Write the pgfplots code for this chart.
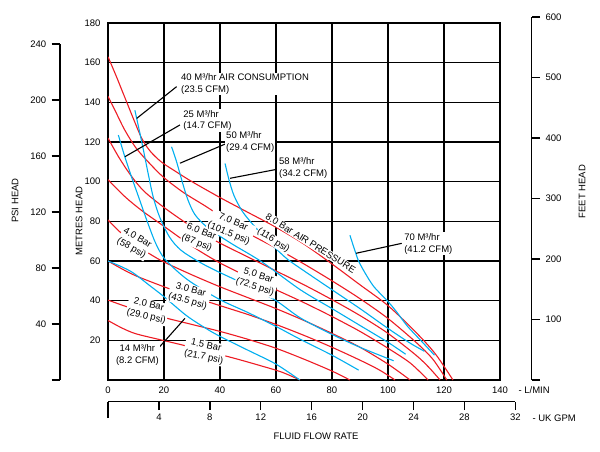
\documentclass[border=0pt]{standalone}
\usepackage{pgfplots}
\pgfplotsset{compat=1.18}
\usepackage{fontspec}
\setmainfont{Liberation Sans}
\definecolor{cred}{HTML}{ED1C24}
\definecolor{cblue}{HTML}{00AEEF}
\newcommand{\fs}{\fontsize{9.5}{11.8}\selectfont}
\tikzset{lbl/.style={fill=white, inner sep=1pt, align=center, font=\fs},
         lbll/.style={fill=white, inner sep=1pt, align=left, anchor=west, font=\fs}}
\pgfplotsset{red/.style={cred, line width=1.1pt, smooth, tension=0.5},
             blue/.style={cblue, line width=1.1pt, smooth, tension=0.5},
             ptr/.style={black, line width=1.1pt}}
\begin{document}
\begin{tikzpicture}[font=\fs]
\path[use as bounding box] (0,0) rectangle (600pt,451pt);

% PSI axis
\begin{axis}[at={(60pt,71pt)}, anchor=south west, scale only axis, width=20pt, height=336pt,
  xmin=0, xmax=1, ymin=0, ymax=240, hide x axis, axis y line=left,
  axis line style={-, line width=1.3pt},
  ytick={40,80,...,240}, extra y ticks={0}, extra y tick labels={},
  tick align=outside, major tick length=8.3pt, tick style={line width=1.3pt, black},
  yticklabel style={xshift=-2pt, font=\fs}, /pgf/number format/assume math mode=true]
\addplot[draw=none] coordinates {(0,0)};
\end{axis}

% FEET axis
\begin{axis}[at={(531.7pt,71pt)}, anchor=south east, scale only axis, width=20pt, height=363pt,
  xmin=0, xmax=1, ymin=0, ymax=600, hide x axis, axis y line=right,
  axis line style={-, line width=1.3pt},
  ytick={100,200,...,600}, extra y ticks={0}, extra y tick labels={},
  tick align=outside, major tick length=8.3pt, tick style={line width=1.3pt, black},
  yticklabel style={xshift=2pt, font=\fs}, /pgf/number format/assume math mode=true]
\addplot[draw=none] coordinates {(0,0)};
\end{axis}

% UK GPM axis
\begin{axis}[at={(108pt,49.3pt)}, anchor=south west, scale only axis, width=407.4pt, height=10pt,
  xmin=0, xmax=32, ymin=0, ymax=1, hide y axis, axis x line=bottom,
  axis line style={-, line width=1.3pt},
  xtick={4,8,...,32}, extra x ticks={0}, extra x tick labels={},
  extra tick style={major tick length=16.5pt},
  tick align=outside, major tick length=8.5pt, tick style={line width=1.3pt, black},
  xticklabel style={font=\fs}, /pgf/number format/assume math mode=true]
\addplot[draw=none] coordinates {(0,0)};
\end{axis}

% Main axis
\begin{axis}[at={(108pt,71pt)}, anchor=south west, scale only axis, width=392pt, height=357pt,
  xmin=0, xmax=140, ymin=0, ymax=180,
  xtick={0,20,...,140}, ytick={20,40,...,180},
  grid=major, major grid style={black, line width=1.1pt},
  axis line style={line width=1.4pt}, major tick length=0pt,
  xticklabel style={yshift=-3pt, font=\fs}, yticklabel style={xshift=-4pt, font=\fs},
  /pgf/number format/assume math mode=true]

% pressure curves (red)
\addplot[red] coordinates {(0,163) (3,153) (6,142.5) (9,132) (12,122) (15,115.5) (19,110) (24,105.3) (30,100) (40,92) (50,84.5) (60,77) (70,68.5) (80,58.5) (90,48) (100,37.5) (110,24) (117,13) (123.2,0)};
\addplot[red] coordinates {(0,143) (3,134.5) (6,126) (10,117) (15,109) (20,102) (27,94.5) (35,87.5) (43,80) (50,74) (60,66.5) (70,58.5) (80,50) (90,41) (100,31) (110,19) (116,10.5) (121,0)};
\addplot[red] coordinates {(0,122) (4,112) (8.5,102.5) (13,95) (20,87) (27,80) (33,74.5) (40,69) (50,62) (60,55) (70,48) (80,40.5) (90,32.5) (100,23.5) (110,12.5) (114.5,6.5) (118.6,0)};
\addplot[red] coordinates {(0,101) (6,92.5) (12,85.5) (20,77.5) (30,67.5) (40,59) (53,50) (60,45.5) (70,39) (80,32) (90,24.5) (100,16) (108,8.5) (114.3,0)};
\addplot[red] coordinates {(0,80.7) (4,75) (9.5,68.5) (15,63.5) (20,59.5) (30,53) (40,47) (50,41.5) (60,36) (70,30) (80,23.5) (90,16.5) (100,8) (107.9,0)};
\addplot[red] coordinates {(0,60) (5,56) (10,52.5) (20,47) (29,42.5) (40,37.5) (50,33) (60,28) (70,22.5) (80,16.5) (90,10) (97,5) (102.5,0)};
\addplot[red] coordinates {(0,40.3) (7,36.8) (14,34) (20,31.5) (30,28) (40,24.5) (50,20.5) (60,16) (70,10.5) (80,4.5) (86.4,0)};
\addplot[red] coordinates {(0,30) (5,26.2) (10,23.3) (19.6,20) (27,17.5) (35,14.6) (45,11) (55,7) (62,4) (68.6,0)};

% air consumption curves (blue)
\addplot[blue] coordinates {(0,60) (5,57) (9,54) (15,47.5) (20,42) (28,32.5) (35,26) (40,22) (50,15) (60,8) (68.5,0)};
\addplot[blue] coordinates {(3.7,123.5) (6,112.6) (8.5,102) (11,92) (14,80) (17,69) (20,61.5) (25,54.5) (30,49) (40,40.5) (50,34) (60,27) (68.7,20.5) (80,12.5) (89.5,5)};
\addplot[blue] coordinates {(9.6,136) (11,127) (12.5,117) (14.5,103) (16.2,92) (18.5,82) (22,72) (26,65.5) (32,60) (38,55.5) (50,47.5) (60,40) (68.7,31.3) (80,23) (90,16.5) (102,9.7)};
\addplot[blue] coordinates {(22.7,117.6) (24.5,110) (26.5,100) (28.5,91) (31,83.5) (35,77.5) (40,72.5) (45,68) (55,59.5) (68.7,45.5) (80,36) (90,27.5) (100,19) (106.3,13)};
\addplot[blue] coordinates {(41.8,109.2) (43.2,101) (45,93) (48,85) (52,78) (56,72) (59.7,66.6) (64,61) (68.7,56.3) (80,45.5) (90,36) (100,26) (108,18.5) (113,14.5)};
\addplot[blue] coordinates {(86.4,73) (88,66) (89.5,60) (92,53.5) (95,47) (99.9,39.7) (103,34.5) (106.9,27.2) (112,19.5) (116.6,12.5)};

% pointers
\addplot[ptr] coordinates {(10.25,131.9) (24.5,147.9)};
\addplot[ptr] coordinates {(6.07,112.6) (25.7,128.6)};
\addplot[ptr] coordinates {(25.7,109.3) (42.4,119.3)};
\addplot[ptr] coordinates {(43.6,101.7) (60.2,106.2)};
\addplot[ptr] coordinates {(88.6,63.9) (104.9,68.9)};
\addplot[ptr] coordinates {(17.4,15.1) (27.5,31.1)};

% air consumption labels
\node[lbll] at (axis cs:25.7,149.2) {40 M³/hr AIR CONSUMPTION\\(23.5 CFM)};
\node[lbll] at (axis cs:26.5,130.8) {25 M³/hr\\(14.7 CFM)};
\node[lbll] at (axis cs:41.8,119.9) {50 M³/hr\\(29.4 CFM)};
\node[lbll] at (axis cs:60.7,106.7) {58 M³/hr\\(34.2 CFM)};
\node[lbll] at (axis cs:105.4,68.7) {70 M³/hr\\(41.2 CFM)};
\node[lbl] at (axis cs:10.5,12.6) {14 M³/hr\\(8.2 CFM)};

% pressure labels
\node[lbl, rotate=-32, anchor=west] at (axis cs:56.3,83.2) {8.0 Bar AIR PRESSURE};
\node[lbl, rotate=-33, anchor=west] at (axis cs:53.3,75.6) {(116 psi)};
\node[lbl, rotate=-23] at (axis cs:43.9,76.6) {7.0 Bar\\(101.5 psi)};
\node[lbl, rotate=-22] at (axis cs:32.5,71.8) {6.0 Bar\\(87 psi)};
\node[lbl, rotate=-18] at (axis cs:53.1,49.6) {5.0 Bar\\(72.5 psi)};
\node[lbl, rotate=-30] at (axis cs:9.4,68.9) {4.0 Bar\\(58 psi)};
\node[lbl, rotate=-16] at (axis cs:29,42.5) {3.0 Bar\\(43.5 psi)};
\node[lbl, rotate=-13] at (axis cs:14.1,34.9) {2.0 Bar\\(29.0 psi)};
\node[lbl, rotate=-12] at (axis cs:34.6,14.3) {1.5 Bar\\(21.7 psi)};
\end{axis}

% outer texts
\node[anchor=west] at (515pt,61pt) {- L/MIN};
\node[anchor=west] at (529pt,33pt) {- UK GPM};
\node at (316pt,15pt) {FLUID FLOW RATE};
\node[rotate=90] at (15pt,250.5pt) {PSI HEAD};
\node[rotate=90] at (79pt,230pt) {METRES HEAD};
\node[rotate=90] at (582pt,259.3pt) {FEET HEAD};
\end{tikzpicture}
\end{document}
